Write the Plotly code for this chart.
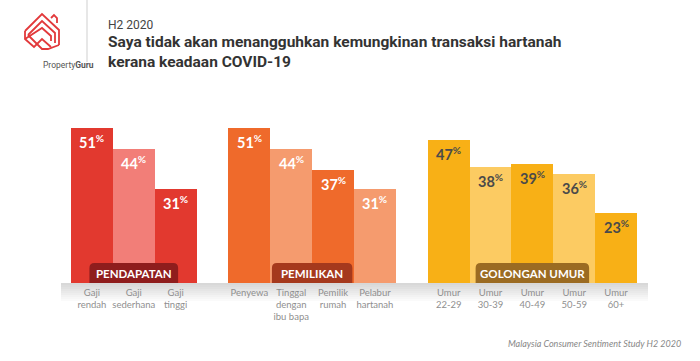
import plotly.graph_objects as go

# ---------------- data ----------------
group_names = ["PENDAPATAN", "PEMILIKAN", "GOLONGAN UMUR"]
group_categories = [
    ["Gaji<br>rendah", "Gaji<br>sederhana", "Gaji<br>tinggi"],
    ["Penyewa", "Tinggal<br>dengan<br>ibu bapa", "Pemilik<br>rumah", "Pelabur<br>hartanah"],
    ["Umur<br>22-29", "Umur<br>30-39", "Umur<br>40-49", "Umur<br>50-59", "Umur<br>60+"],
]
group_values = [
    [51, 44, 31],
    [51, 44, 37, 31],
    [47, 38, 39, 36, 23],
]

# ---------------- style ----------------
dark_cols = ["#E2392F", "#EF6A2B", "#F8B016"]
light_cols = ["#F27E78", "#F59B6E", "#FCCB62"]
box_cols = ["#8F1D1D", "#A5391D", "#9B6B22"]
label_cols = ["white", "white", "#4a4a4a"]

W, H = 700, 361
L, R, T, B = 71, 63, 120, 78
PW, PH = W - L - R, H - T - B
GAP = 32 / 42.0
YMAX = 53.6

def px_x(px):
    return (px - L) / PW

def px_y(py):
    return (H - B - py) / PH

xs, ys, cols, ticks, tickvals, lab_cols = [], [], [], [], [], []
centers = []
pos = 0.0
for gi, (cats, vals) in enumerate(zip(group_categories, group_values)):
    start = pos
    for i, (c, v) in enumerate(zip(cats, vals)):
        xs.append(pos)
        ys.append(v)
        cols.append(dark_cols[gi] if i % 2 == 0 else light_cols[gi])
        ticks.append(c)
        tickvals.append(pos)
        lab_cols.append(label_cols[gi])
        pos += 1
    centers.append((start + pos - 1) / 2)
    pos += GAP
xmin, xmax = -0.5, pos - GAP - 0.5

fig = go.Figure()
fig.add_trace(go.Bar(x=xs, y=ys, width=1.0, marker=dict(color=cols, line=dict(width=0)),
                     hoverinfo="skip"))

annotations = []
for x, y, lc in zip(xs, ys, lab_cols):
    annotations.append(dict(
        x=x, y=y, xref="x", yref="y", yanchor="top", yshift=-2, showarrow=False,
        text=f"<b>{y}<sup>%</sup></b>",
        font=dict(family="Lato", size=14.5, color=lc)))

shapes = []
# gray gradient band under the baseline
steps = 10
for k in range(steps):
    g = int(0xD8 + (0xFF - 0xD8) * k / (steps - 1))
    shapes.append(dict(type="rect", xref="paper", yref="paper",
                       x0=px_x(61), x1=px_x(648),
                       y0=px_y(283 + 2 * k), y1=px_y(283 + 2 * (k + 1)),
                       fillcolor=f"rgb({g},{g},{g})", line=dict(width=0), layer="below"))

# group label boxes (rounded top)
for gi, name in enumerate(group_names):
    wpx = 8.3 * len(name) + 6
    cx = centers[gi]
    hw = wpx / 2 / 42.0
    h = 20 / (PH / YMAX)
    rx = 5 / 42.0
    ry = 5 / (PH / YMAX)
    x0, x1 = cx - hw, cx + hw
    path = (f"M{x0},0 L{x0},{h-ry} Q{x0},{h} {x0+rx},{h} L{x1-rx},{h} "
            f"Q{x1},{h} {x1},{h-ry} L{x1},0 Z")
    shapes.append(dict(type="path", xref="x", yref="y", path=path,
                       fillcolor=box_cols[gi], line=dict(width=0)))
    annotations.append(dict(x=cx, y=h / 2, xref="x", yref="y", showarrow=False,
                            text=f"<b>{name}</b>",
                            font=dict(family="Lato", size=11.5, color="white")))

# divider line near logo
shapes.append(dict(type="line", xref="paper", yref="paper",
                   x0=px_x(87), x1=px_x(87), y0=px_y(0), y1=px_y(62),
                   line=dict(color="#cfcfcf", width=1)))

# logo (approximate outline chevrons)
def P(pts):
    return " ".join(("M" if i == 0 else "L") + f"{px_x(a)},{px_y(b)}" for i, (a, b) in enumerate(pts))

red = "#E2393B"
logo_paths = [
    [(25, 31), (42, 14), (59, 30), (59, 45)],
    [(51, 18), (54, 15), (57, 18), (57, 23)],
    [(28, 35), (42, 21), (55, 33), (55, 43)],
    [(25, 39), (42, 28), (51, 36), (51, 41)],
    [(25, 31), (25, 39), (34, 47), (42, 39), (51, 47)],
    [(28, 35), (42, 49), (48, 49), (59, 45)],
]
for pts in logo_paths:
    shapes.append(dict(type="path", xref="paper", yref="paper", path=P(pts),
                       line=dict(color=red, width=1.8)))

annotations += [
    dict(xref="paper", yref="paper", x=px_x(41), y=px_y(58), showarrow=False,
         text="Property<b>Guru</b>",
         font=dict(family="Roboto", size=8.5, color="#555")),
    dict(xref="paper", yref="paper", x=px_x(106), y=px_y(25), xanchor="left", yanchor="middle",
         showarrow=False, text="H2 2020", font=dict(family="Roboto", size=12, color="#444")),
    dict(xref="paper", yref="paper", x=px_x(106), y=px_y(51.5), xanchor="left", yanchor="middle",
         showarrow=False, align="left",
         text="<b>Saya tidak akan menangguhkan kemungkinan transaksi hartanah<br>kerana keadaan COVID-19</b>",
         font=dict(family="Roboto", size=15.5, color="#333")),
    dict(xref="paper", yref="paper", x=px_x(683), y=px_y(343), xanchor="right", yanchor="middle",
         showarrow=False, text="<i>Malaysia Consumer Sentiment Study H2 2020</i>",
         font=dict(family="Lato", size=9, color="#888")),
]

fig.update_layout(
    width=W, height=H, margin=dict(l=L, r=R, t=T, b=B),
    paper_bgcolor="white", plot_bgcolor="rgba(0,0,0,0)",
    showlegend=False, bargap=0,
    xaxis=dict(range=[xmin, xmax], tickvals=tickvals, ticktext=ticks, showgrid=False,
               zeroline=False, showline=False, ticks="", ticklabelstandoff=2,
               tickfont=dict(family="Lato", size=9.5, color="#8f8f8f"), fixedrange=True),
    yaxis=dict(range=[0, YMAX], visible=False, fixedrange=True),
    shapes=shapes, annotations=annotations,
)

fig.write_html("out.html", config={"displayModeBar": False},
               post_script="document.body.style.margin='0';document.body.style.padding='0';")
